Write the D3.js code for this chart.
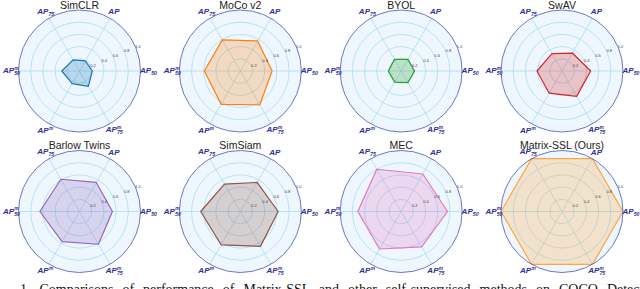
<!DOCTYPE html>
<html>
<head>
<meta charset="utf-8">
<script src="https://cdn.jsdelivr.net/npm/d3@7"></script>
<style>
  html, body { margin: 0; padding: 0; background: #fff; }
  svg { display: block; }
</style>
</head>
<body>
<svg id="chart"></svg>
<script>
// 1. DATOS
// ========
const methods = ["SimCLR", "MoCo v2", "BYOL", "SwAV", "Barlow Twins", "SimSiam", "MEC", "Matrix-SSL (Ours)"];
const axisKeys = ["AP50", "AP", "AP75", "APm50", "APm", "APm75"];
const ticks = [0.2, 0.4, 0.6, 0.8, 1.0];
const lineColors = ["#1f77b4", "#ff7f0e", "#2ca02c", "#d62728", "#9467bd", "#8c564b", "#e377c2", "#ffa53a"];

// valores normalizados, orden de axisKeys
const simclr   = [0.21, 0.19, 0.21, 0.29, 0.24, 0.29];
const mocov2   = [0.52, 0.57, 0.59, 0.59, 0.63, 0.64];
const byol     = [0.22, 0.22, 0.22, 0.21, 0.21, 0.22];
const swav     = [0.47, 0.34, 0.33, 0.41, 0.42, 0.48];
const barlow   = [0.54, 0.55, 0.61, 0.65, 0.57, 0.62];
const simsiam  = [0.62, 0.55, 0.52, 0.65, 0.63, 0.66];
const mec      = [0.76, 0.71, 0.80, 0.71, 0.71, 0.67];
const matrix   = [1.00, 1.00, 1.00, 1.00, 1.00, 1.00];
const series = [simclr, mocov2, byol, swav, barlow, simsiam, mec, matrix];

// etiquetas: base, superíndice, subíndice
const axisLabels = {
  AP50:  ["AP", "", "50"],
  AP:    ["AP", "", ""],
  AP75:  ["AP", "", "75"],
  APm50: ["AP", "m", "50"],
  APm:   ["AP", "m", ""],
  APm75: ["AP", "m", "75"]
};

const caption = "1.  Comparisons of performance of Matrix-SSL and other self-supervised methods on COCO Detection";

// 2. CONFIGURACIÓN
// ================
const width = 640, height = 289;
const R = 61;
const colX = d3.scaleLinear().domain([0, 3]).range([79.5, 562]);
const rowY = d3.scaleLinear().domain([0, 1]).range([71, 211.5]);
const r = d3.scaleLinear().domain([0, 1]).range([0, R]);
// ángulo d3 (horario desde arriba): AP50 a la derecha, sentido antihorario
const angle = d3.scaleLinear().domain([0, axisKeys.length]).range([Math.PI / 2, Math.PI / 2 - 2 * Math.PI]);

const svg = d3.select("#chart").attr("width", width).attr("height", height);

const radial = d3.lineRadial()
  .angle((d, i) => angle(i))
  .radius(d => r(d))
  .curve(d3.curveLinearClosed);

const pt = (a, rad) => [Math.sin(a) * rad, -Math.cos(a) * rad];

// 3. DIBUJO DE CADA RADAR
// =======================
methods.forEach((name, k) => {
  const g = svg.append("g")
    .attr("transform", `translate(${colX(k % 4)},${rowY(Math.floor(k / 4))})`);

  // fondo
  g.append("circle").attr("r", R).attr("fill", "#eef7fd");

  // anillos
  g.selectAll("circle.ring")
    .data(ticks.slice(0, -1))
    .join("circle")
    .attr("class", "ring")
    .attr("r", d => r(d))
    .attr("fill", "none")
    .attr("stroke", "#a9dcf5")
    .attr("stroke-width", 0.8);

  // radios
  g.selectAll("line.spoke")
    .data(axisKeys)
    .join("line")
    .attr("class", "spoke")
    .attr("x1", 0).attr("y1", 0)
    .attr("x2", (d, i) => pt(angle(i), R)[0])
    .attr("y2", (d, i) => pt(angle(i), R)[1])
    .attr("stroke", "#a9dcf5")
    .attr("stroke-width", 0.8);

  // polígono
  g.append("path")
    .datum(series[k])
    .attr("d", radial)
    .attr("fill", lineColors[k])
    .attr("fill-opacity", 0.25)
    .attr("stroke", lineColors[k])
    .attr("stroke-width", 1.2)
    .attr("stroke-linejoin", "round");

  // borde exterior
  g.append("circle").attr("r", R).attr("fill", "none")
    .attr("stroke", "#5a68c4").attr("stroke-width", 0.9);

  // etiquetas de los anillos
  const ta = (90 - 23) * Math.PI / 180;
  g.selectAll("text.tick")
    .data(ticks)
    .join("text")
    .attr("class", "tick")
    .attr("x", d => pt(ta, r(d) + 2.5)[0])
    .attr("y", d => pt(ta, r(d) + 2.5)[1])
    .attr("text-anchor", "middle")
    .attr("dominant-baseline", "central")
    .attr("font-family", "Liberation Sans, Arial, sans-serif")
    .attr("font-size", 4)
    .attr("fill", "#444")
    .text(d => d.toFixed(1));

  // etiquetas de los ejes
  axisKeys.forEach((key, i) => {
    const [base, sup, sub] = axisLabels[key];
    const lg = g.append("g");
    const t = lg.append("text")
      .attr("font-family", "Liberation Sans, Arial, sans-serif")
      .attr("font-weight", "bold")
      .attr("font-style", "italic")
      .attr("fill", "#2f2f9c");
    t.append("tspan").attr("font-size", 8).text(base);
    const w = t.node().getComputedTextLength();
    if (sup) {
      lg.append("text").attr("x", w + 0.3).attr("y", -3.2)
        .attr("font-family", "Liberation Sans, Arial, sans-serif")
        .attr("font-weight", "bold").attr("font-style", "italic")
        .attr("font-size", 4.8).attr("fill", "#2f2f9c").text(sup);
    }
    if (sub) {
      lg.append("text").attr("x", w + 0.1).attr("y", 2)
        .attr("font-family", "Liberation Sans, Arial, sans-serif")
        .attr("font-weight", "bold").attr("font-style", "italic")
        .attr("font-size", 5.2).attr("fill", "#2f2f9c").text(sub);
    }
    const bb = lg.node().getBBox();
    const [x, y] = pt(angle(i), R + 7.5);
    lg.attr("transform", `translate(${x - bb.x - bb.width / 2},${y - bb.y - bb.height / 2})`);
  });

  // título
  g.append("text")
    .attr("x", 0)
    .attr("y", -R - 1.5)
    .attr("text-anchor", "middle")
    .attr("font-family", "Liberation Sans, Arial, sans-serif")
    .attr("font-size", 10.5)
    .attr("fill", "#222")
    .text(name);
});

// 4. PIE DE FIGURA (recortado)
// ============================
svg.append("text")
  .attr("x", 20)
  .attr("y", 294)
  .attr("font-family", "Liberation Serif, Times New Roman, serif")
  .attr("font-size", 14)
  .attr("word-spacing", 5.5)
  .attr("fill", "#111")
  .text(caption);
</script>
</body>
</html>
